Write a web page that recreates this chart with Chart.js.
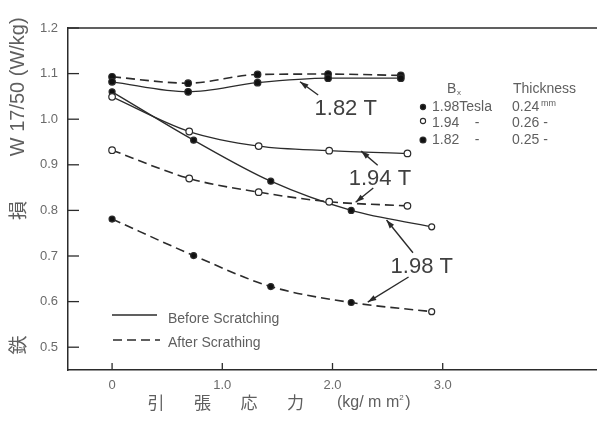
<!DOCTYPE html>
<html>
<head>
<meta charset="utf-8">
<script src="https://cdn.jsdelivr.net/npm/chart.js@4.4.0/dist/chart.umd.min.js"></script>
<style>
html, body { margin: 0; padding: 0; background: #fff; }
#wrap { width: 597px; height: 425px; }
</style>
</head>
<body>
<div id="wrap"><canvas id="loss"></canvas></div>
<script>
(function () {
    "use strict";

    // tension (kg/mm2) at which each sheet was measured
    var stress182 = [0, 0.69, 1.32, 1.96, 2.62];
    var stress194 = [0, 0.70, 1.33, 1.97, 2.68];
    var stress198 = [0, 0.74, 1.44, 2.17, 2.90];

    // iron loss W17/50 (W/kg)
    var before182 = [1.082, 1.060, 1.080, 1.090, 1.090];
    var after182 = [1.093, 1.079, 1.098, 1.099, 1.096];
    var before194 = [1.049, 0.973, 0.941, 0.931, 0.925];
    var after194 = [0.932, 0.870, 0.840, 0.819, 0.810];
    var before198 = [1.060, 0.954, 0.864, 0.800, 0.764];
    var after198 = [0.781, 0.701, 0.633, 0.598, 0.578];

    var xTicks = [0, 1, 2, 3];
    var xTickLabels = ["0", "1.0", "2.0", "3.0"];
    var yTicks = [0.5, 0.6, 0.7, 0.8, 0.9, 1.0, 1.1, 1.2];
    var yTickLabels = ["0.5", "0.6", "0.7", "0.8", "0.9", "1.0", "1.1", "1.2"];

    var INK = "#2b2b2b";
    var TEXT = "#5f5f5f";
    var SANS = "'Liberation Sans', Arial, sans-serif";
    var CJK = "'Noto Sans CJK JP', sans-serif";

    function pts(xs, ys) {
        return xs.map(function (x, i) { return { x: x, y: ys[i] }; });
    }

    function series(xs, ys, dashed, fills, radius) {
        return {
            data: pts(xs, ys),
            borderColor: INK,
            borderWidth: dashed ? 1.6 : 1.3,
            borderDash: dashed ? [9, 5] : [],
            pointRadius: radius,
            pointBorderWidth: 1.2,
            pointBorderColor: INK,
            pointBackgroundColor: fills,
            cubicInterpolationMode: "monotone",
            fill: false
        };
    }

    var black = ["#111", "#111", "#111", "#111", "#111"];
    var white = ["#fff", "#fff", "#fff", "#fff", "#fff"];
    var black198 = ["#111", "#111", "#111", "#111", "#fff"];

    var callouts = [
        { text: "1.82 T", at: [2.12, 1.022], arrows: [[1.87, 1.053, 1.705, 1.082]] },
        { text: "1.94 T", at: [2.43, 0.870], arrows: [[2.41, 0.899, 2.26, 0.930], [2.37, 0.849, 2.21, 0.818]] },
        { text: "1.98 T", at: [2.81, 0.676], arrows: [[2.73, 0.707, 2.49, 0.779], [2.69, 0.654, 2.32, 0.599]] }
    ];

    function arrow(ctx, x1, y1, x2, y2) {
        var a = Math.atan2(y2 - y1, x2 - x1);
        ctx.beginPath();
        ctx.moveTo(x1, y1);
        ctx.lineTo(x2, y2);
        ctx.stroke();
        ctx.beginPath();
        ctx.moveTo(x2, y2);
        ctx.lineTo(x2 - 9 * Math.cos(a - 0.32), y2 - 9 * Math.sin(a - 0.32));
        ctx.lineTo(x2 - 9 * Math.cos(a + 0.32), y2 - 9 * Math.sin(a + 0.32));
        ctx.closePath();
        ctx.fill();
    }

    function dot(ctx, x, y, r, filled) {
        ctx.beginPath();
        ctx.arc(x, y, r, 0, Math.PI * 2);
        ctx.fillStyle = filled ? "#111" : "#fff";
        ctx.fill();
        ctx.lineWidth = 1.1;
        ctx.strokeStyle = INK;
        ctx.stroke();
    }

    var decorations = {
        id: "decorations",
        afterDraw: function (chart) {
            var ctx = chart.ctx;
            var area = chart.chartArea;
            var xs = chart.scales.x;
            var ys = chart.scales.y;
            ctx.save();

            // top frame line
            ctx.strokeStyle = INK;
            ctx.lineWidth = 1.5;
            ctx.beginPath();
            ctx.moveTo(area.left, area.top);
            ctx.lineTo(area.right, area.top);
            ctx.stroke();

            // tick marks pointing into the plot
            ctx.lineWidth = 1.3;
            yTicks.forEach(function (v) {
                var py = ys.getPixelForValue(v);
                ctx.beginPath();
                ctx.moveTo(area.left, py);
                ctx.lineTo(area.left + 11, py);
                ctx.stroke();
            });
            xTicks.forEach(function (v) {
                var px = xs.getPixelForValue(v);
                ctx.beginPath();
                ctx.moveTo(px, area.bottom);
                ctx.lineTo(px, area.bottom - 7);
                ctx.stroke();
            });

            // flux density callouts
            ctx.strokeStyle = INK;
            ctx.lineWidth = 1.4;
            ctx.font = "22px " + SANS;
            ctx.textAlign = "center";
            ctx.textBaseline = "middle";
            callouts.forEach(function (c) {
                ctx.fillStyle = "#404040";
                ctx.fillText(c.text, xs.getPixelForValue(c.at[0]), ys.getPixelForValue(c.at[1]));
                ctx.fillStyle = INK;
                c.arrows.forEach(function (a) {
                    arrow(ctx, xs.getPixelForValue(a[0]), ys.getPixelForValue(a[1]),
                        xs.getPixelForValue(a[2]), ys.getPixelForValue(a[3]));
                });
            });

            // material key, top right
            ctx.fillStyle = TEXT;
            ctx.font = "14px " + SANS;
            ctx.textAlign = "left";
            ctx.fillText("B", 447, 89);
            ctx.font = "8px " + SANS;
            ctx.fillText("x", 457, 93);
            ctx.font = "14px " + SANS;
            ctx.fillText("Thickness", 513, 89);
            var rows = [
                ["1.98Tesla", "0.24", true, 2.6, 107],
                ["1.94    -", "0.26 -", false, 2.6, 123],
                ["1.82    -", "0.25 -", true, 3, 140]
            ];
            rows.forEach(function (r) {
                dot(ctx, 423, r[4] - (r[2] ? 0 : 2), r[3], r[2]);
                ctx.fillStyle = TEXT;
                ctx.font = "14px " + SANS;
                ctx.fillText(r[0], 432, r[4]);
                ctx.fillText(r[1], 512, r[4]);
            });
            ctx.font = "9px " + SANS;
            ctx.fillText("mm", 541, 104);

            // line style key, bottom left
            ctx.strokeStyle = INK;
            ctx.lineWidth = 1.4;
            ctx.beginPath();
            ctx.moveTo(112, 315);
            ctx.lineTo(157, 315);
            ctx.stroke();
            ctx.setLineDash([9, 5]);
            ctx.lineWidth = 1.6;
            ctx.beginPath();
            ctx.moveTo(113, 340);
            ctx.lineTo(160, 340);
            ctx.stroke();
            ctx.setLineDash([]);
            ctx.fillStyle = TEXT;
            ctx.font = "14px " + SANS;
            ctx.fillText("Before Scratching", 168, 319);
            ctx.fillText("After Scrathing", 168, 343);

            // x axis title
            ctx.font = "17px " + CJK;
            ctx.textAlign = "center";
            ["引", "張", "応", "力"].forEach(function (ch, i) {
                ctx.fillText(ch, 156 + i * 46.5, 403);
            });
            ctx.font = "16px " + SANS;
            ctx.textAlign = "left";
            ctx.fillText("(kg/ m m", 337, 403);
            var w = ctx.measureText("(kg/ m m").width;
            ctx.font = "8px " + SANS;
            ctx.fillText("2", 337 + w, 398);
            ctx.font = "16px " + SANS;
            ctx.fillText(")", 337 + w + 6, 403);

            // y axis title, rotated
            ctx.save();
            ctx.translate(18, 0);
            ctx.rotate(-Math.PI / 2);
            ctx.textAlign = "center";
            ctx.font = "20px " + SANS;
            ctx.fillText("W 17/50 (W/kg)", -ys.getPixelForValue(1.071), 0);
            ctx.font = "19px " + CJK;
            ctx.fillText("損", -ys.getPixelForValue(0.8), 0);
            ctx.fillText("鉄", -ys.getPixelForValue(0.505), 0);
            ctx.restore();

            ctx.restore();
        }
    };

    new Chart(document.getElementById("loss"), {
        type: "line",
        data: {
            datasets: [
                series(stress182, before182, false, black, 3.3),
                series(stress182, after182, true, black, 3.3),
                series(stress194, before194, false, white, 3.3),
                series(stress194, after194, true, white, 3.3),
                series(stress198, before198, false, black198, 3),
                series(stress198, after198, true, black198, 3)
            ]
        },
        options: {
            responsive: true,
            maintainAspectRatio: false,
            animation: false,
            layout: { autoPadding: false, padding: { top: 28, right: 0, left: 0, bottom: 0 } },
            plugins: {
                legend: { display: false },
                tooltip: { enabled: false }
            },
            scales: {
                x: {
                    type: "linear",
                    min: -0.4,
                    max: 4.4,
                    grid: { display: false, drawTicks: false },
                    border: { display: true, color: INK, width: 1.5 },
                    afterBuildTicks: function (scale) {
                        scale.ticks = xTicks.map(function (v) { return { value: v }; });
                    },
                    afterFit: function (scale) { scale.height = 55; },
                    ticks: {
                        color: "#6a6a6a",
                        padding: 8,
                        font: { family: SANS, size: 13 },
                        callback: function (v) { return xTickLabels[xTicks.indexOf(v)]; }
                    }
                },
                y: {
                    min: 0.45,
                    max: 1.2,
                    grid: { display: false, drawTicks: false },
                    border: { display: true, color: INK, width: 1.5 },
                    afterBuildTicks: function (scale) {
                        scale.ticks = yTicks.map(function (v) { return { value: v }; });
                    },
                    afterFit: function (scale) { scale.width = 68; },
                    ticks: {
                        color: "#6a6a6a",
                        padding: 10,
                        font: { family: SANS, size: 13 },
                        callback: function (v) {
                            var i = yTicks.findIndex(function (t) { return Math.abs(t - v) < 1e-6; });
                            return yTickLabels[i];
                        }
                    }
                }
            }
        },
        plugins: [decorations]
    });
})();
</script>
</body>
</html>
